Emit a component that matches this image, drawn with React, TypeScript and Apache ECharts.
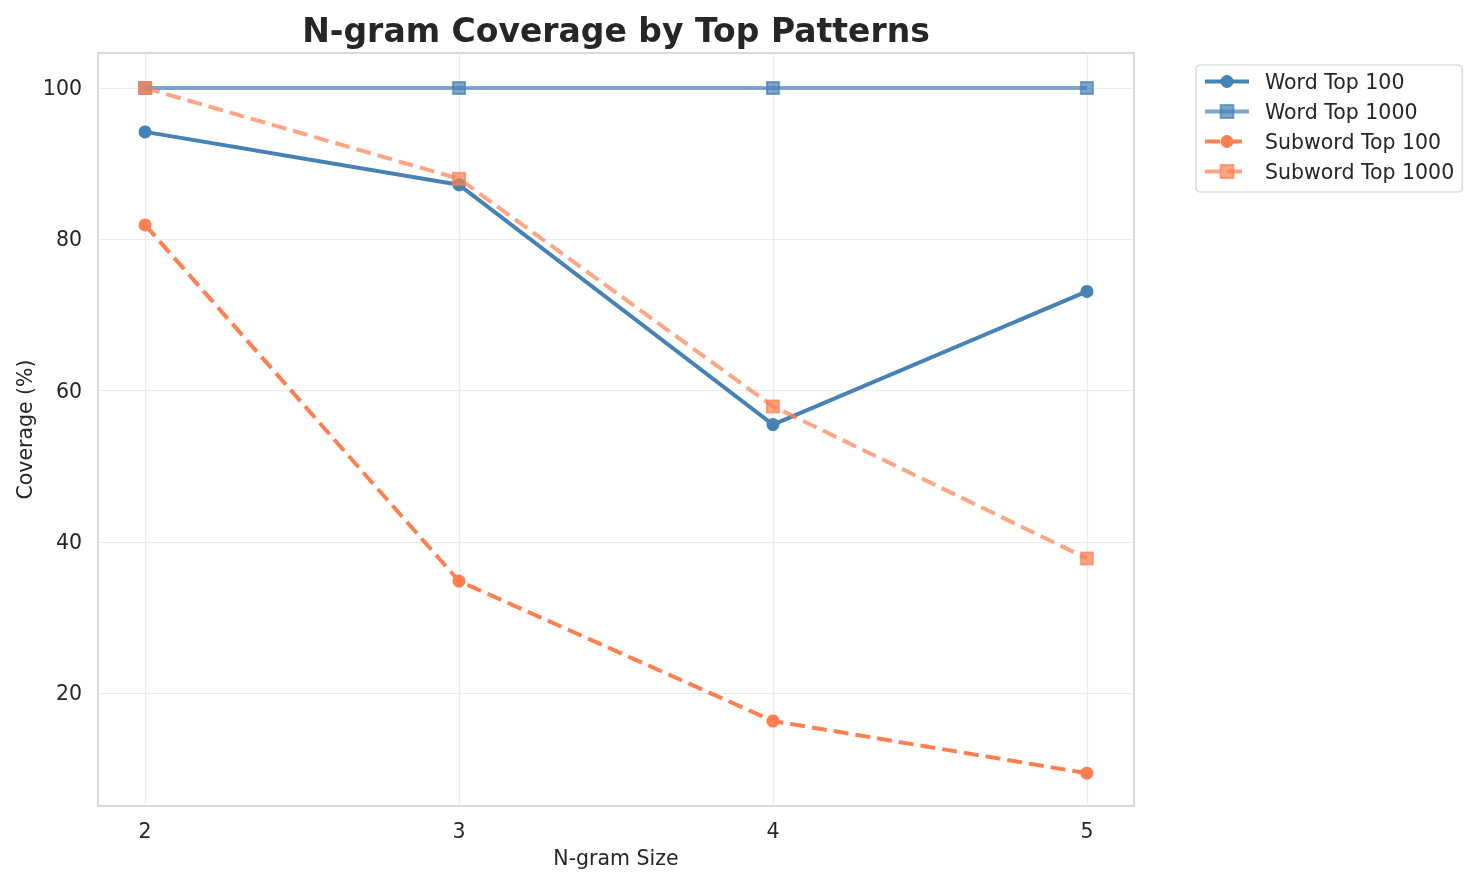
import React, { useEffect, useRef } from "react";
import * as echarts from "echarts";

const ngramSizes = [2, 3, 4, 5];
const wordTop100 = [94.2, 87.2, 55.5, 73.1];
const wordTop1000 = [100, 100, 100, 100];
const subwordTop100 = [81.9, 34.8, 16.3, 9.4];
const subwordTop1000 = [100, 88.0, 57.9, 37.8];
const yTicks = [20, 40, 60, 80, 100];

const FONT = "DejaVu Sans";
const BLUE = [70, 130, 180];
const CORAL = [255, 127, 80];
const TXT = "#262626";

function rgba(c: number[], a: number) {
  return `rgba(${c[0]},${c[1]},${c[2]},${a})`;
}

function pairs(values: number[]) {
  return ngramSizes.map((x, i) => [x, values[i]]);
}

export default function App() {
  const ref = useRef<HTMLDivElement>(null);
  useEffect(() => {
    if (!ref.current) return;
    const chart = echarts.init(ref.current, null, { renderer: "svg" });
    const lineBase = (name: string, data: number[], c: number[], dashed: boolean, symbol: string, alpha: number) => ({
      name,
      type: "line",
      data: pairs(data),
      symbol,
      symbolSize: symbol === "circle" ? 13 : 12,
      showSymbol: true,
      lineStyle: { color: rgba(c, alpha), width: 4, type: dashed ? [15, 7] : "solid" },
      itemStyle: {
        color: rgba(c, alpha),
        borderColor: rgba(c, alpha),
        borderWidth: symbol === "rect" ? 2 : 0,
      },
      emphasis: { disabled: true },
    });
    chart.setOption({
      animation: false,
      textStyle: { fontFamily: FONT },
      graphic: [
        {
          type: "text",
          x: 616,
          y: 30,
          style: {
            text: "N-gram Coverage by Top Patterns",
            font: `bold 33px ${FONT}`,
            fill: TXT,
            textAlign: "center",
            textVerticalAlign: "middle",
          },
        },
      ],
      legend: {
        orient: "vertical",
        left: 1196,
        top: 65,
        itemWidth: 44,
        itemHeight: 16,
        itemGap: 9,
        padding: [6, 8, 10, 7],
        borderColor: "#d0d0d0",
        borderWidth: 1.2,
        borderRadius: 4,
        lineStyle: { width: 4 },
        textStyle: { fontFamily: FONT, fontSize: 20.5, lineHeight: 21, color: TXT, padding: [0, 0, 0, 11] },
        data: ["Word Top 100", "Word Top 1000", "Subword Top 100", "Subword Top 1000"],
      },
      grid: {
        left: 98,
        right: 344,
        top: 53,
        bottom: 79,
        show: true,
        borderColor: "#cccccc",
        borderWidth: 1.5,
        backgroundColor: "transparent",
      },
      xAxis: {
        type: "value",
        min: 1.85,
        max: 5.15,
        name: "N-gram Size",
        nameLocation: "middle",
        nameGap: 41,
        nameMoveOverlap: false,
        nameTextStyle: { fontFamily: FONT, fontSize: 20.5, color: TXT },
        axisLine: { show: false },
        axisTick: { show: false, customValues: ngramSizes },
        axisLabel: { customValues: ngramSizes, fontFamily: FONT, fontSize: 20.5, color: TXT, margin: 14 },
        splitLine: { show: true, lineStyle: { color: "#ebebeb", width: 1.2 } },
      },
      yAxis: {
        type: "value",
        min: 5.06,
        max: 104.63,
        name: "Coverage (%)",
        nameLocation: "middle",
        nameGap: 63,
        nameMoveOverlap: false,
        nameTextStyle: { fontFamily: FONT, fontSize: 20.5, color: TXT },
        axisLine: { show: false },
        axisTick: { show: false, customValues: yTicks },
        axisLabel: { customValues: yTicks, fontFamily: FONT, fontSize: 20.5, color: TXT, margin: 16 },
        splitLine: { show: true, lineStyle: { color: "#ebebeb", width: 1.2 } },
      },
      series: [
        lineBase("Word Top 100", wordTop100, BLUE, false, "circle", 1),
        lineBase("Word Top 1000", wordTop1000, BLUE, false, "rect", 0.7),
        lineBase("Subword Top 100", subwordTop100, CORAL, true, "circle", 1),
        lineBase("Subword Top 1000", subwordTop1000, CORAL, true, "rect", 0.7),
      ],
    });
    return () => chart.dispose();
  }, []);
  return <div ref={ref} style={{ position: "fixed", left: 0, top: 0, width: 1478, height: 885 }} />;
}
